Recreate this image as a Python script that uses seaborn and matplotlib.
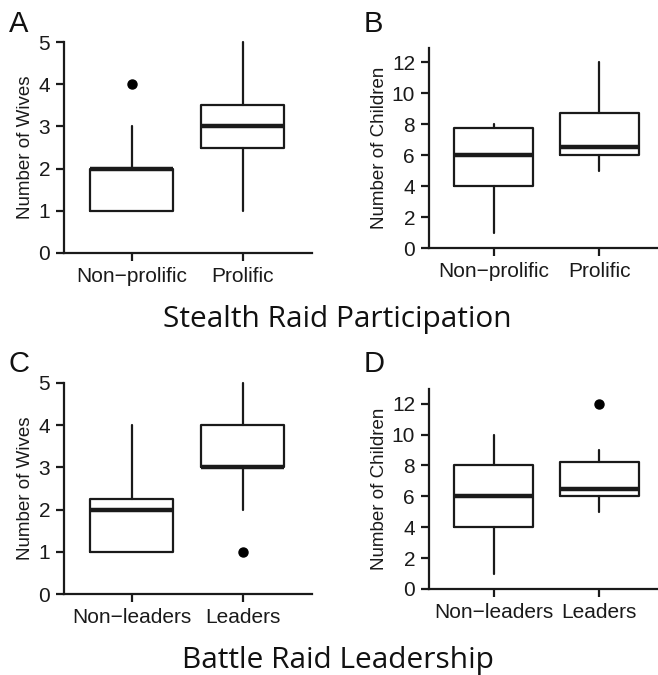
import matplotlib
matplotlib.use("Agg")
import matplotlib.pyplot as plt
import seaborn as sns

# ---------------- data ----------------
cats_stealth = ["Non\u2212prolific", "Prolific"]
cats_battle = ["Non\u2212leaders", "Leaders"]

wives_stealth_q1 = [1, 2.5]
wives_stealth_med = [2, 3]
wives_stealth_q3 = [2, 3.5]
wives_stealth_lo = [1, 1]
wives_stealth_hi = [3, 5]
wives_stealth_out = [[4], []]

children_stealth_q1 = [4, 6]
children_stealth_med = [6, 6.5]
children_stealth_q3 = [7.75, 8.75]
children_stealth_lo = [1, 5]
children_stealth_hi = [8, 12]
children_stealth_out = [[], []]

wives_battle_q1 = [1, 3]
wives_battle_med = [2, 3]
wives_battle_q3 = [2.25, 4]
wives_battle_lo = [1, 2]
wives_battle_hi = [4, 5]
wives_battle_out = [[], [1]]

children_battle_q1 = [4, 6]
children_battle_med = [6, 6.5]
children_battle_q3 = [8, 8.25]
children_battle_lo = [1, 5]
children_battle_hi = [10, 9]
children_battle_out = [[], [12]]

wives_ticks = [0, 1, 2, 3, 4, 5]
children_ticks = [0, 2, 4, 6, 8, 10, 12]

# ---------------- style ----------------
sns.set_theme(style="ticks")
plt.rcParams["font.family"] = ["Liberation Sans", "DejaVu Sans"]

W, H = 658, 675
fig = plt.figure(figsize=(W / 100, H / 100), dpi=100)
INK = "#1a1a1a"


def stats(labels, q1, med, q3, lo, hi, out):
    return [dict(label=l, q1=a, med=m, q3=b, whislo=w0, whishi=w1, fliers=f)
            for l, a, m, b, w0, w1, f in zip(labels, q1, med, q3, lo, hi, out)]


def panel(rect_px, ylim, yticks, ylabel, labels, st, letter, letter_xy, ylab_x):
    x0, x1, ybot, ytop = rect_px
    ax = fig.add_axes([x0 / W, 1 - ybot / H, (x1 - x0) / W, (ybot - ytop) / H])
    lw = 1.6
    ax.bxp(st, positions=[0, 1], widths=0.75, showcaps=False, patch_artist=False,
           boxprops=dict(color=INK, linewidth=lw),
           whiskerprops=dict(color=INK, linewidth=lw, linestyle="-"),
           medianprops=dict(color=INK, linewidth=3.2, solid_capstyle="butt"),
           flierprops=dict(marker="o", markerfacecolor="black", markeredgecolor="black",
                           markersize=6.5))
    for art in ax.lines:
        art.set_clip_on(False)
    ax.set_xlim(-0.61, 1.62)
    ax.set_ylim(*ylim)
    ax.set_yticks(yticks)
    ax.set_xticks([0, 1])
    ax.set_xticklabels(labels)
    sns.despine(ax=ax)
    for s in ["left", "bottom"]:
        ax.spines[s].set_linewidth(1.6)
        ax.spines[s].set_color(INK)
    ax.tick_params(axis="both", direction="out", length=5.5, width=1.6, color=INK,
                   labelsize=15, labelcolor=INK)
    ax.tick_params(axis="y", pad=4.5)
    ax.tick_params(axis="x", pad=4.5)
    ax.set_ylabel(ylabel, fontsize=13.5, color=INK)
    ax.yaxis.set_label_coords(ylab_x, 0.5)
    ax.set_facecolor("white")
    fig.text(letter_xy[0] / W, 1 - letter_xy[1] / H, letter, fontsize=21,
             color="#111111", ha="left", va="baseline")
    return ax


panel((64, 311.7, 253, 42), (0, 5), wives_ticks, "Number of Wives", cats_stealth,
      stats(cats_stealth, wives_stealth_q1, wives_stealth_med, wives_stealth_q3,
            wives_stealth_lo, wives_stealth_hi, wives_stealth_out),
      "A", (9, 32), -0.122)
panel((429, 665, 248, 48), (0, 12.92), children_ticks, "Number of Children", cats_stealth,
      stats(cats_stealth, children_stealth_q1, children_stealth_med, children_stealth_q3,
            children_stealth_lo, children_stealth_hi, children_stealth_out),
      "B", (364, 32), -0.172)
panel((64, 311.7, 594, 383), (0, 5), wives_ticks, "Number of Wives", cats_battle,
      stats(cats_battle, wives_battle_q1, wives_battle_med, wives_battle_q3,
            wives_battle_lo, wives_battle_hi, wives_battle_out),
      "C", (9, 372), -0.122)
panel((429, 665, 589, 389), (0, 12.95), children_ticks, "Number of Children", cats_battle,
      stats(cats_battle, children_battle_q1, children_battle_med, children_battle_q3,
            children_battle_lo, children_battle_hi, children_battle_out),
      "D", (364, 372), -0.172)

fig.text(337 / W, 1 - 326.5 / H, "Stealth Raid Participation", fontsize=21.5,
         family=["Open Sans", "DejaVu Sans"], ha="center", va="baseline", color="#111111")
fig.text(338 / W, 1 - 668 / H, "Battle Raid Leadership", fontsize=21.5,
         family=["Open Sans", "DejaVu Sans"], ha="center", va="baseline", color="#111111")

fig.savefig("out.png", dpi=100, facecolor="white")
